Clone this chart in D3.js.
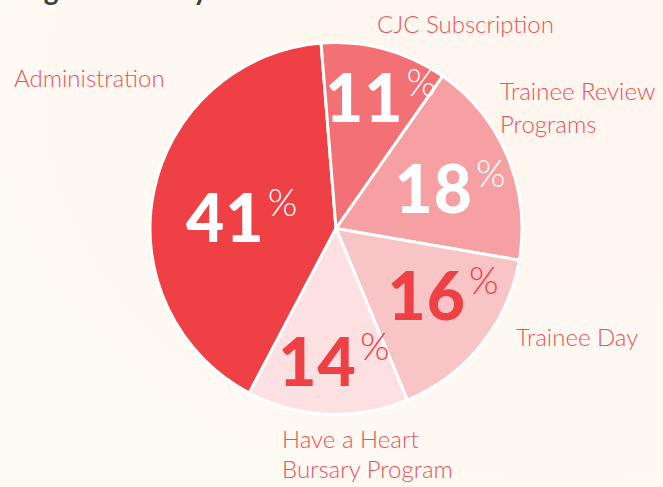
<!DOCTYPE html>
<html>
<head>
<meta charset="utf-8">
<script src="https://cdn.jsdelivr.net/npm/d3@7"></script>
<style>
  html, body { margin: 0; padding: 0; background: #fdf8f1; }
  svg { display: block; }
</style>
</head>
<body>
<svg id="chart" width="663" height="487"></svg>
<script>
const categories = ["Administration", "CJC Subscription", "Trainee Review Programs", "Trainee Day", "Have a Heart Bursary Program"];
const values = [41, 11, 18, 16, 14];
const labelLines = [["Administration"], ["CJC Subscription"], ["Trainee Review", "Programs"], ["Trainee Day"], ["Have a Heart", "Bursary Program"]];
const sliceColors = ["#ef4046", "#f37075", "#f7a0a4", "#f9c4c6", "#fde0e2"];
const numberColors = ["#ffffff", "#ffffff", "#ffffff", "#ef4046", "#ef4046"];
const titleText = "Budget Summary";

const W = 663, H = 487;
const cx = 336, cy = 228.5, R = 186;
const svg = d3.select("#chart");

// background
const defs = svg.append("defs");
const rg = defs.append("radialGradient").attr("id", "bg").attr("cx", "85%").attr("cy", "20%").attr("r", "90%");
rg.append("stop").attr("offset", "0%").attr("stop-color", "#fef6ef");
rg.append("stop").attr("offset", "100%").attr("stop-color", "#fdf9f3");
svg.append("rect").attr("width", W).attr("height", H).attr("fill", "url(#bg)");

// title (cut off at the top edge, as in the reference)
svg.append("text").attr("x", -6).attr("y", 0)
  .attr("font-family", "Lato, sans-serif").attr("font-weight", 700).attr("font-size", 28)
  .attr("fill", "#3f3f3f").text(titleText);

// Administration starts at ~207.8deg and the pie runs clockwise round to it again
const start = 207.8 * Math.PI / 180;
const pie = d3.pie().sort(null).startAngle(start).endAngle(start + 2 * Math.PI);
const arcs = pie(values);
const arc = d3.arc().innerRadius(0).outerRadius(R);

const g = svg.append("g").attr("transform", `translate(${cx},${cy})`);
g.selectAll("path.slice").data(arcs).join("path")
  .attr("class", "slice")
  .attr("d", arc)
  .attr("fill", (d, i) => sliceColors[i])
  .attr("stroke", "#ffffff").attr("stroke-width", 3).attr("stroke-linejoin", "round");

// percentage labels, placed from each slice's mid angle
const labelR = [95, 139, 121, 126, 133];
const angleShift = [-4.8, 3.5, 3.1, -6.8, -1.7];
g.selectAll("text.pct").data(arcs).join("text")
  .attr("class", "pct")
  .attr("transform", (d, i) => {
    const a = (d.startAngle + d.endAngle) / 2 + angleShift[i] * Math.PI / 180;
    return `translate(${labelR[i] * Math.sin(a)},${-labelR[i] * Math.cos(a)})`;
  })
  .attr("text-anchor", "middle")
  .attr("fill", (d, i) => numberColors[i])
  .each(function(d, i) {
    const t = d3.select(this);
    t.append("tspan").attr("font-family", "Lato, sans-serif").attr("font-weight", 900)
      .attr("font-size", 66).attr("letter-spacing", 1).attr("dy", 25).text(values[i]);
    t.append("tspan").attr("font-family", "Lato, sans-serif").attr("font-weight", 300)
      .attr("font-size", 38).attr("dx", 3).attr("dy", -26).text("%");
  });

// category labels
const labelPos = [[14, 87], [377, 33], [500, 100], [516, 346], [282, 448]];
const lineGap = [0, 0, 33, 0, 30];
svg.selectAll("text.cat").data(labelLines).join("text")
  .attr("class", "cat")
  .attr("x", (d, i) => labelPos[i][0]).attr("y", (d, i) => labelPos[i][1])
  .attr("font-family", "Lato, sans-serif").attr("font-weight", 300).attr("font-size", 24)
  .attr("fill", "#ef5157")
  .each(function(lines, i) {
    d3.select(this).selectAll("tspan").data(lines).join("tspan")
      .attr("x", labelPos[i][0]).attr("dy", (l, j) => j === 0 ? 0 : lineGap[i]).text(l => l);
  });
</script>
</body>
</html>
